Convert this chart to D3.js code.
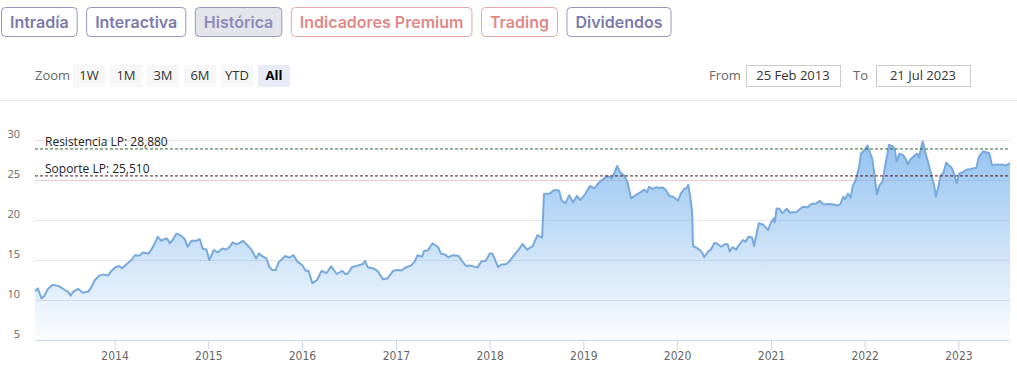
<!DOCTYPE html>
<html>
<head>
<meta charset="utf-8">
<script src="https://cdn.jsdelivr.net/npm/d3@7"></script>
<style>
body { margin: 0; background: #fff; }
svg { display: block; }
</style>
</head>
<body>
<div id="chart"></div>
<script>
var tabs = ["Intradía", "Interactiva", "Histórica", "Indicadores Premium", "Trading", "Dividendos"];
var tabKinds = ["plain", "plain", "active", "hot", "hot", "plain"];
var zoomButtons = ["1W", "1M", "3M", "6M", "YTD", "All"];
var yTicks = [5, 10, 15, 20, 25, 30];
var fromText = "25 Feb 2013", toText = "21 Jul 2023";
var resistencia = 28.88, soporte = 25.51;

// fractional years
var years = [
  2013.151, 2013.18, 2013.22, 2013.25, 2013.29, 2013.34, 2013.41, 2013.47, 2013.50, 2013.53,
  2013.56, 2013.61, 2013.66, 2013.72, 2013.75, 2013.79, 2013.84, 2013.88, 2013.93, 2013.96,
  2014.01, 2014.05, 2014.08, 2014.12, 2014.18, 2014.22, 2014.27, 2014.30, 2014.36, 2014.39,
  2014.43, 2014.46, 2014.50, 2014.53, 2014.56, 2014.59, 2014.62, 2014.66, 2014.71, 2014.75,
  2014.78, 2014.82, 2014.87, 2014.91, 2014.94, 2014.98,
  2015.01, 2015.06, 2015.10, 2015.15, 2015.19, 2015.23, 2015.26, 2015.30, 2015.33, 2015.37,
  2015.41, 2015.46, 2015.51, 2015.54, 2015.58, 2015.62, 2015.65, 2015.68, 2015.72, 2015.75,
  2015.82, 2015.86, 2015.91, 2015.95,
  2016.00, 2016.04, 2016.07, 2016.11, 2016.16, 2016.21, 2016.26, 2016.31, 2016.37, 2016.43,
  2016.46, 2016.49, 2016.53, 2016.59, 2016.65, 2016.67, 2016.70, 2016.77, 2016.81, 2016.86,
  2016.91, 2016.97,
  2017.02, 2017.06, 2017.11, 2017.16, 2017.20, 2017.23, 2017.28, 2017.30, 2017.34, 2017.39,
  2017.45, 2017.48, 2017.52, 2017.56, 2017.61, 2017.67, 2017.71, 2017.75, 2017.80, 2017.87,
  2017.91, 2017.96,
  2018.00, 2018.03, 2018.09, 2018.12, 2018.18, 2018.21, 2018.26, 2018.31, 2018.35, 2018.40,
  2018.46, 2018.51, 2018.56, 2018.58, 2018.64, 2018.69, 2018.74, 2018.77, 2018.81, 2018.85,
  2018.89, 2018.93, 2018.97,
  2019.02, 2019.07, 2019.12, 2019.16, 2019.22, 2019.26, 2019.30, 2019.33, 2019.36, 2019.39,
  2019.44, 2019.47, 2019.51, 2019.56, 2019.62, 2019.65, 2019.68, 2019.70, 2019.74, 2019.78,
  2019.82, 2019.85, 2019.88, 2019.92, 2019.96,
  2020.01, 2020.04, 2020.08, 2020.10, 2020.12, 2020.14, 2020.16, 2020.17, 2020.22, 2020.26,
  2020.29, 2020.33, 2020.36, 2020.40, 2020.43, 2020.47, 2020.51, 2020.54, 2020.56, 2020.59,
  2020.63, 2020.66, 2020.70, 2020.73, 2020.76, 2020.80, 2020.82, 2020.87, 2020.92, 2020.97,
  2021.00, 2021.03, 2021.04, 2021.06, 2021.09, 2021.12, 2021.17, 2021.20, 2021.27, 2021.34,
  2021.39, 2021.43, 2021.48, 2021.52, 2021.56, 2021.62, 2021.68, 2021.71, 2021.74, 2021.77,
  2021.79, 2021.82, 2021.85, 2021.87, 2021.91, 2021.94, 2021.96,
  2022.00, 2022.03, 2022.06, 2022.08, 2022.10, 2022.13, 2022.16, 2022.19, 2022.22, 2022.26,
  2022.30, 2022.32, 2022.34, 2022.37, 2022.41, 2022.44, 2022.46, 2022.49, 2022.53, 2022.56,
  2022.58, 2022.61, 2022.62, 2022.65, 2022.68, 2022.72, 2022.74, 2022.76, 2022.79, 2022.81,
  2022.84, 2022.87, 2022.89, 2022.92, 2022.94, 2022.98,
  2023.01, 2023.05, 2023.09, 2023.12, 2023.15, 2023.19, 2023.22, 2023.26, 2023.29, 2023.33,
  2023.36, 2023.40, 2023.44, 2023.47, 2023.50, 2023.551
];

var prices = [
  11.1, 11.45, 10.2, 10.5, 11.4, 11.9, 11.7, 11.25, 11.05, 10.55,
  11.05, 11.4, 10.9, 11.05, 11.55, 12.5, 13.05, 13.2, 13.05, 13.55,
  14.1, 14.25, 13.95, 14.4, 15.0, 15.6, 15.55, 15.95, 15.8, 16.25,
  17.1, 17.9, 17.4, 17.6, 17.7, 17.1, 17.5, 18.3, 18.05, 17.6,
  16.65, 17.4, 17.4, 17.6, 16.4, 16.3,
  15.0, 16.25, 15.95, 16.45, 16.3, 16.65, 17.2, 16.95, 17.1, 17.4,
  16.95, 16.3, 15.2, 15.8, 15.45, 15.2, 14.2, 13.75, 13.75, 14.7,
  15.5, 15.3, 15.6, 14.8,
  14.4, 13.65, 13.65, 12.1, 12.5, 13.65, 13.35, 14.2, 13.25, 13.65,
  13.25, 13.3, 14.1, 14.3, 14.5, 14.9, 14.1, 13.9, 13.55, 12.6,
  12.7, 13.65,
  13.75, 13.7, 14.1, 14.3, 14.8, 15.6, 15.4, 16.15, 16.2, 17.1,
  16.6, 15.8, 15.7, 15.35, 15.6, 15.5, 14.8, 14.25, 14.3, 14.05,
  14.8, 14.9,
  15.8, 15.8, 14.1, 14.4, 14.5, 14.8, 15.6, 16.3, 17.0, 16.3,
  16.75, 18.1, 17.8, 23.25, 23.3, 23.75, 23.7, 22.4, 22.1, 23.1,
  22.2, 23.0, 22.5,
  23.25, 24.25, 23.95, 24.6, 25.2, 25.5, 25.2, 25.8, 26.75, 26.0,
  25.5, 24.8, 22.7, 23.1, 23.55, 23.8, 23.45, 24.15, 23.9, 24.1,
  24.0, 24.05, 23.75, 23.0, 22.9,
  22.4, 23.3, 23.95, 23.95, 24.4, 22.9, 21.05, 16.75, 16.45, 16.05,
  15.35, 16.05, 16.3, 17.15, 17.0, 16.65, 17.0, 16.95, 16.05, 16.6,
  16.3, 16.9, 17.5, 17.3, 17.9, 17.8, 16.75, 19.6, 19.4, 18.75,
  19.7, 20.2, 19.7, 21.45, 21.4, 20.85, 21.4, 20.95, 21.0, 21.65,
  21.6, 22.0, 22.05, 22.4, 21.95, 22.0, 21.9, 21.8, 22.0, 22.9,
  22.6, 23.3, 22.8, 24.15, 25.2, 26.65, 28.3,
  28.75, 29.3, 28.3, 27.7, 26.05, 23.2, 24.4, 24.8, 26.9, 29.4,
  29.2, 28.9, 27.3, 28.3, 28.1, 27.6, 26.95, 27.6, 28.05, 28.3,
  27.85, 29.45, 29.8, 28.3, 27.1, 25.2, 24.4, 22.9, 24.4, 25.55,
  25.9, 27.2, 26.9, 26.65, 26.25, 24.6,
  25.8, 26.0, 26.3, 26.3, 26.45, 26.5, 27.9, 28.55, 28.5, 28.35,
  26.8, 26.95, 26.9, 26.95, 26.8, 27.1
];

function toDate(fy) {
  var yr = Math.floor(fy);
  var a = new Date(yr, 0, 1), b = new Date(yr + 1, 0, 1);
  return new Date(+a + (fy - yr) * (b - a));
}

var data = years.map(function(t, i) { return {date: toDate(t), value: prices[i]}; });

var width = 1017, height = 370;
var svg = d3.select("#chart").append("svg")
    .attr("width", width)
    .attr("height", height);

// tab buttons along the top
var tabStyle = {
  plain:  {fill: "#fff",    stroke: "#9896bf", text: "#7c7aab"},
  active: {fill: "#e4e4eb", stroke: "#9896bf", text: "#8d8bb9"},
  hot:    {fill: "#fff",    stroke: "#e6a8a8", text: "#e08888"}
};
var cx = 1.5;
tabs.forEach(function(name, i) {
  var st = tabStyle[tabKinds[i]];
  var g = svg.append("g");
  var rect = g.append("rect");
  var t = g.append("text")
      .attr("y", 28)
      .attr("font-family", "Inter, 'Open Sans', sans-serif")
      .attr("font-weight", 600)
      .attr("font-size", "16px")
      .attr("fill", st.text)
      .text(name);
  var w = t.node().getComputedTextLength() + 17;
  t.attr("x", cx + w / 2).attr("text-anchor", "middle");
  rect.attr("x", cx).attr("y", 7.5)
      .attr("width", w).attr("height", 29)
      .attr("rx", 4)
      .attr("fill", st.fill)
      .attr("stroke", st.stroke);
  cx += w + 9.5;
});

// range selector row
var uiFont = "'Open Sans', sans-serif";
svg.append("text")
    .attr("x", 35).attr("y", 80)
    .attr("font-family", uiFont).attr("font-size", "13px")
    .attr("fill", "#666").text("Zoom");

zoomButtons.forEach(function(b, i) {
  var bx = 73 + i * 37;
  var sel = b === "All";
  svg.append("rect")
      .attr("x", bx).attr("y", 65)
      .attr("width", 32).attr("height", 22)
      .attr("fill", sel ? "#e6ebf5" : "#f7f7f7");
  svg.append("text")
      .attr("x", bx + 16).attr("y", 80)
      .attr("text-anchor", "middle")
      .attr("font-family", uiFont).attr("font-size", "13px")
      .attr("font-weight", sel ? 700 : 400)
      .attr("fill", sel ? "#000" : "#333")
      .text(b);
});

function dateBox(label, lx, bx, txt) {
  svg.append("text")
      .attr("x", lx).attr("y", 80)
      .attr("font-family", uiFont).attr("font-size", "13px")
      .attr("fill", "#666").text(label);
  svg.append("rect")
      .attr("x", bx + 0.5).attr("y", 65.5)
      .attr("width", 94).attr("height", 21)
      .attr("fill", "#fff").attr("stroke", "#ccc");
  svg.append("text")
      .attr("x", bx + 47).attr("y", 80)
      .attr("text-anchor", "middle")
      .attr("font-family", uiFont).attr("font-size", "13px")
      .attr("fill", "#333").text(txt);
}
dateBox("From", 709, 746, fromText);
dateBox("To", 853, 876, toText);

svg.append("line")
    .attr("x1", 0).attr("x2", width)
    .attr("y1", 100.5).attr("y2", 100.5)
    .attr("stroke", "#e6e6e6");

// chart
var x = d3.scaleTime()
    .domain([new Date(2013, 1, 25), new Date(2023, 6, 21)])
    .range([35, 1010]);
var y = d3.scaleLinear()
    .domain([5, 30])
    .range([340, 140]);

var defs = svg.append("defs");
var grad = defs.append("linearGradient")
    .attr("id", "areaFill")
    .attr("gradientUnits", "userSpaceOnUse")
    .attr("x1", 0).attr("x2", 0)
    .attr("y1", y(30)).attr("y2", y(5));
grad.append("stop").attr("offset", 0).attr("stop-color", "#7cb5ec").attr("stop-opacity", 0.82);
grad.append("stop").attr("offset", 1).attr("stop-color", "#7cb5ec").attr("stop-opacity", 0.03);

// gridlines
svg.append("g").selectAll("line")
    .data(yTicks.filter(function(v) { return v > 5; }))
    .enter().append("line")
    .attr("x1", 35).attr("x2", 1010)
    .attr("y1", function(v) { return Math.round(y(v)) + 0.5; })
    .attr("y2", function(v) { return Math.round(y(v)) + 0.5; })
    .attr("stroke", function(v) { return v === 25 ? "#f3c9c9" : "#e6e6e6"; });

// y labels
svg.append("g").selectAll("text")
    .data(yTicks)
    .enter().append("text")
    .attr("x", 20)
    .attr("y", function(v) { return y(v) - 2; })
    .attr("text-anchor", "end")
    .attr("font-family", uiFont).attr("font-size", "11px")
    .attr("fill", "#666")
    .text(function(v) { return v; });

// area + line
var area = d3.area()
    .x(function(d) { return x(d.date); })
    .y0(y(5))
    .y1(function(d) { return y(d.value); });
var line = d3.line()
    .x(function(d) { return x(d.date); })
    .y(function(d) { return y(d.value); });

svg.append("path")
    .datum(data)
    .attr("d", area)
    .attr("fill", "url(#areaFill)");
svg.append("path")
    .datum(data)
    .attr("d", line)
    .attr("fill", "none")
    .attr("stroke", "#78a9dc")
    .attr("stroke-width", 2)
    .attr("stroke-linejoin", "round");

// x axis
var xAxis = svg.append("g")
    .attr("transform", "translate(0," + y(5) + ")")
    .call(d3.axisBottom(x)
        .ticks(d3.timeYear.every(1))
        .tickSize(10)
        .tickSizeOuter(0)
        .tickFormat(d3.timeFormat("%Y")));
xAxis.select(".domain").attr("stroke", "#ccd6eb");
xAxis.selectAll(".tick line").attr("stroke", "#ccd6eb");
xAxis.selectAll(".tick text")
    .attr("y", 11)
    .attr("dy", "0.71em")
    .attr("font-family", "'Liberation Sans Narrow', 'DejaVu Sans Condensed', sans-serif")
    .attr("font-size", "12px")
    .attr("fill", "#666");

// support / resistance lines
var levels = [
  {value: resistencia, label: "Resistencia LP: 28,880", color: "#2f6b2f"},
  {value: soporte, label: "Soporte LP: 25,510", color: "#4d1c1c"}
];
levels.forEach(function(l) {
  svg.append("line")
      .attr("x1", 35).attr("x2", 1010)
      .attr("y1", y(l.value)).attr("y2", y(l.value))
      .attr("stroke", l.color)
      .attr("stroke-dasharray", "3,2");
  svg.append("text")
      .attr("x", 45).attr("y", y(l.value) - 3)
      .attr("font-family", uiFont).attr("font-size", "12px")
      .attr("fill", "#222")
      .text(l.label);
});
</script>
</body>
</html>
